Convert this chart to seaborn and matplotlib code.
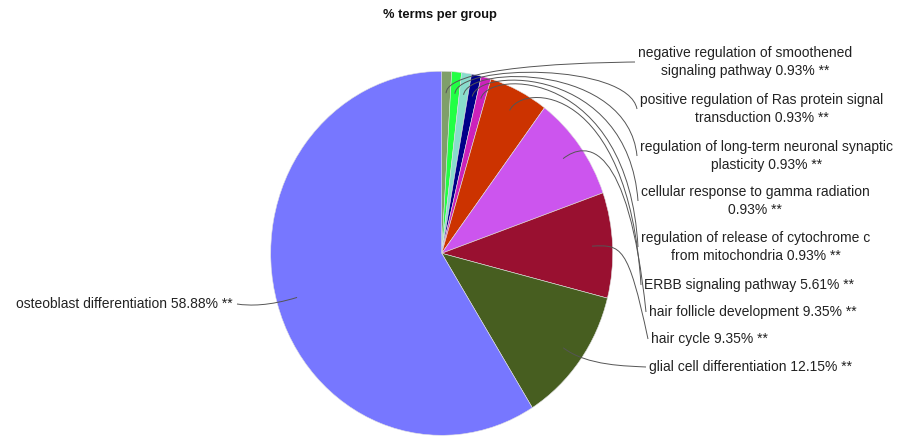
import matplotlib
matplotlib.use("Agg")
import numpy as np
import matplotlib.pyplot as plt
import seaborn as sns
from matplotlib.path import Path
from matplotlib.patches import PathPatch

# data
terms = [
    "negative regulation of smoothened\nsignaling pathway",
    "positive regulation of Ras protein signal\ntransduction",
    "regulation of long-term neuronal synaptic\nplasticity",
    "cellular response to gamma radiation\n",
    "regulation of release of cytochrome c\nfrom mitochondria",
    "ERBB signaling pathway",
    "hair follicle development",
    "hair cycle",
    "glial cell differentiation",
    "osteoblast differentiation",
]
percents = [0.93, 0.93, 0.93, 0.93, 0.93, 5.61, 9.35, 9.35, 12.15, 58.88]
colors = ["#7f9f6a", "#22ff44", "#88ddcc", "#000088", "#cc22bb",
          "#cc3300", "#cc55ee", "#991030", "#475e20", "#7777ff"]

# label anchors in pixels (left edge / right edge for left side, vertical centre)
label_pos = [(638, 62), (640, 109), (640, 156), (641, 201), (641, 247),
             (644, 285), (649, 312), (651, 339), (649, 367), (233, 304)]

W, H = 897, 438
CX, CY, RX, RY = 441.7, 253.3, 171.0, 182.0

def dx(px):
    return (px - CX) / RX

def dy(py):
    return (CY - py) / RY

sns.set_theme(style="white")
plt.rcParams["font.family"] = ["Liberation Sans", "DejaVu Sans"]

fig = plt.figure(figsize=(W / 100, H / 100), dpi=100)
ax = fig.add_axes([0, 0, 1, 1])
wedges, _ = ax.pie(percents, colors=sns.color_palette(colors), startangle=90,
                   counterclock=False, radius=1, center=(0, 0),
                   wedgeprops=dict(linewidth=0.4, edgecolor="#e0e0e0"))
ax.set_aspect("auto")
ax.set_xlim(dx(0), dx(W))
ax.set_ylim(dy(H), dy(0))
ax.axis("off")

anchor_right = dx(628)
anchor_left = dx(250)
for w, term, pct, (lx, ly) in zip(wedges, terms, percents, label_pos):
    sep = "" if term.endswith("\n") else " "
    text = f"{term}{sep}{pct:.2f}% **"
    mid = np.deg2rad((w.theta1 + w.theta2) / 2)
    link = (0.88 * np.cos(mid), 0.88 * np.sin(mid))
    elbow = (1.05 * np.cos(mid), 1.05 * np.sin(mid))
    right = lx > CX
    if right:
        tgt = (dx(lx - 3), dy(ly))
        anc = (anchor_right, elbow[1])
        ax.text(dx(lx), dy(ly), text, ha="left", va="center", multialignment="center",
                fontsize=10, color="#222222", linespacing=1.3)
    else:
        tgt = (dx(lx + 4), dy(ly))
        anc = (anchor_left, elbow[1])
        ax.text(dx(lx), dy(ly), text, ha="right", va="center",
                fontsize=10, color="#222222")
    path = Path([tgt, anc, elbow, link],
                [Path.MOVETO, Path.CURVE4, Path.CURVE4, Path.CURVE4])
    ax.add_patch(PathPatch(path, facecolor="none", edgecolor="#555555", lw=0.7))

fig.text(440 / W, 1 - 15 / H, "% terms per group", ha="center", va="center",
         fontsize=9.3, fontweight="bold", color="#111111")

fig.savefig("out.png", dpi=100, facecolor="white")
